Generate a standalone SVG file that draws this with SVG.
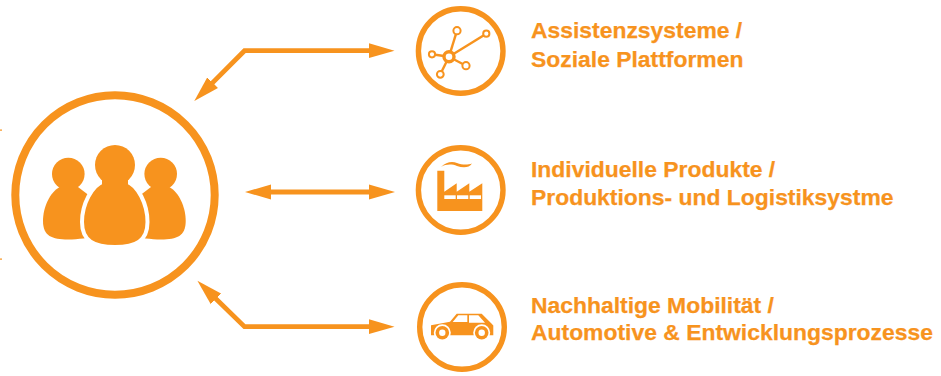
<svg xmlns="http://www.w3.org/2000/svg" width="941" height="376" viewBox="0 0 941 376">
<style>
.o{fill:#f7931e}
.w{fill:#fff}
.ring{fill:none;stroke:#f7931e}
.lbl{font-family:"Liberation Sans",Arial,sans-serif;font-weight:700;font-size:22.9px;fill:#f7931e;stroke:#f7931e;stroke-width:.25}
.c{fill:none;stroke:#f7931e;stroke-width:4.8}
</style>
<defs>
<marker id="a" markerUnits="userSpaceOnUse" markerWidth="28" markerHeight="16" refX="7" refY="8" orient="auto-start-reverse"><path d="M0,0.5 L26,8 L0,15.500 Z" fill="#f7931e"/></marker>
</defs>
<g id="connectors">
<polyline class="c" points="207.700,87.600 244.500,50.700 375.500,50.700" marker-start="url(#a)" marker-end="url(#a)"/>
<line class="c" x1="264" y1="192" x2="376" y2="192" marker-start="url(#a)" marker-end="url(#a)"/>
<polyline class="c" points="211,294 244.500,326.700 375.500,326.700" marker-start="url(#a)" marker-end="url(#a)"/>
</g>
<g id="ticks">
<rect class="o" x="0" y="129.500" width="2" height="1.200"/>
<rect class="o" x="0" y="258.500" width="2" height="1.200"/>
</g>
<g id="people">
<circle class="ring" cx="115" cy="195" r="99.700" stroke-width="8"/>
<circle class="o" cx="68.300" cy="174" r="16.300"/>
<circle class="o" cx="160.700" cy="174" r="16.300"/>
<path class="o" d="M60,187C50,192 43,207 43,221C43,236 52,239.500 68,239.500C78,239.500 90,238 95,235L95,200L78,187Z"/>
<path class="o" d="M169,187C179,192 185.700,207 185.700,221C185.700,236 177,239.500 161,239.500C151,239.500 139,238 134,235L134,200L151,187Z"/>
<path class="o" stroke="#fff" stroke-width="4" d="M104,181C92,185 82,204 82,222C82,241 94,247 115,247C136,247 147.500,241 147.500,222C147.500,204 138,185 126,181C119,184 111,184 104,181Z"/>
<circle class="o" cx="115" cy="165" r="20"/>
<path class="o" d="M102,178L128,178L128,186L102,186Z"/>
</g>
<g id="node-assist">
<circle class="ring" cx="460.700" cy="51" r="42.300" stroke-width="5.400"/>
<g stroke="#f7931e" stroke-width="2.400">
<line x1="449" y1="56.700" x2="457" y2="30.700"/>
<line x1="449" y1="56.700" x2="486.300" y2="33.700"/>
<line x1="449" y1="56.700" x2="432" y2="54.300"/>
<line x1="449" y1="56.700" x2="466" y2="65.700"/>
<line x1="449" y1="56.700" x2="440.300" y2="74.300"/>
</g>
<g fill="#fff" stroke="#f7931e">
<circle cx="449" cy="56.700" r="5" stroke-width="3.400"/>
<circle cx="457" cy="30.700" r="3.600" stroke-width="2"/>
<circle cx="486.300" cy="33.700" r="3.100" stroke-width="2"/>
<circle cx="432" cy="54.300" r="3.100" stroke-width="2"/>
<circle cx="466" cy="65.700" r="3.600" stroke-width="2"/>
<circle cx="440.300" cy="74.300" r="3.400" stroke-width="2"/>
</g>
<text class="lbl" x="531" y="38.300">Assistenzsysteme /</text>
<text class="lbl" x="531" y="67.300">Soziale Plattformen</text>
</g>
<g id="node-produkte">
<circle class="ring" cx="460.700" cy="190" r="42.300" stroke-width="5.400"/>
<path class="o" d="M437.300,170.700H444.300V191.700L456.700,183.300V191.700L469.300,183.300V191.700L482.300,183.300V211H437.300Z"/>
<rect class="w" x="444.300" y="195.300" width="11.400" height="3.700"/>
<rect class="w" x="457" y="195.300" width="11.300" height="3.700"/>
<rect class="w" x="469.700" y="195.300" width="11.300" height="3.700"/>
<path class="o" d="M441,167C446,162 452,161 457,163C462,165 468,165 472,163.500C469,168 463,168 457,166C452,164 446,164 441,167Z"/>
<text class="lbl" x="531" y="176.500">Individuelle Produkte /</text>
<text class="lbl" x="531" y="205">Produktions- und Logistiksystme</text>
</g>
<g id="node-mobil">
<circle class="ring" cx="462" cy="327" r="42.300" stroke-width="5.400"/>
<path class="o" d="M431,325.300L450,321.700L456.700,313.700H481.700L491.700,323.700L493.300,325.500V335.300H431Z"/>
<path class="w" d="M452.700,322L458.300,315.300H467.300V322Z"/>
<path class="w" d="M469,315.300H478.300L485,322.700H469Z"/>
<circle class="w" cx="442.300" cy="332.700" r="8.500"/>
<circle class="w" cx="481.700" cy="332.700" r="8.500"/>
<circle class="o" cx="442.300" cy="332.700" r="6.800"/>
<circle class="o" cx="481.700" cy="332.700" r="6.800"/>
<circle class="w" cx="442.300" cy="332.700" r="3.200"/>
<circle class="w" cx="481.700" cy="332.700" r="3.200"/>
<text class="lbl" x="531" y="312.500">Nachhaltige Mobilität /</text>
<text class="lbl" x="531" y="340">Automotive &amp; Entwicklungsprozesse</text>
</g>
</svg>
